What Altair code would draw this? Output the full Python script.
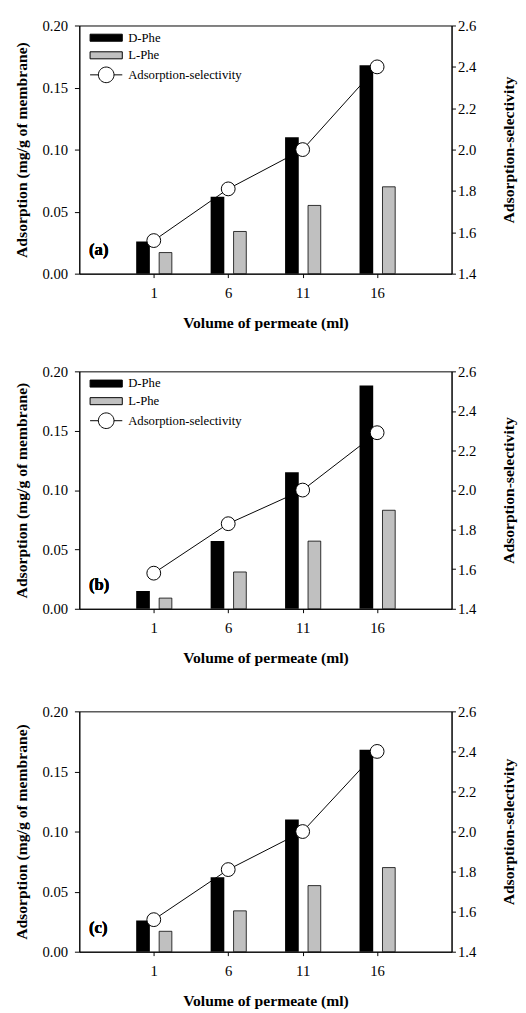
import altair as alt
import pandas as pd

volume = [1, 6, 11, 16]

a_dphe = [0.026, 0.062, 0.110, 0.168]
a_lphe = [0.017, 0.034, 0.055, 0.070]
a_sel = [1.56, 1.81, 2.00, 2.40]

b_dphe = [0.015, 0.057, 0.115, 0.188]
b_lphe = [0.009, 0.031, 0.057, 0.083]
b_sel = [1.58, 1.83, 2.00, 2.29]

c_dphe = [0.026, 0.062, 0.110, 0.168]
c_lphe = [0.017, 0.034, 0.055, 0.070]
c_sel = [1.56, 1.81, 2.00, 2.40]

series_names = ["D-Phe", "L-Phe", "Adsorption-selectivity"]
series_fill = ["#000000", "#c0c0c0", "#ffffff"]
panel_labels = ["(a)", "(b)", "(c)"]
panel_heights = [254, 243, 246]

x_ticks = [1, 6, 11, 16]
left_ticks = [0.0, 0.05, 0.10, 0.15, 0.20]
right_ticks = [1.4, 1.6, 1.8, 2.0, 2.2, 2.4, 2.6]

FONT = "Liberation Serif"
RECT = "M-2.06,-0.45H2.06V0.45H-2.06Z"
LINE_CIRCLE = ("M-2.06,0H-1M1,0H2.06"
               "M-1,0A1,1,0,1,1,1,0A1,1,0,1,1,-1,0Z")

x_scale = alt.Scale(domain=[-4, 21], nice=False, zero=False, padding=0)
x_axis = alt.Axis(values=x_ticks, title="Volume of permeate (ml)", format="d",
                  tickSize=4, labelPadding=8, titlePadding=15)


def panel(dphe, lphe, sel, label, h):
    df = pd.DataFrame({"volume": volume, "dphe": dphe, "lphe": lphe, "sel": sel})
    base = alt.Chart(df)
    left_y = alt.Scale(domain=[0, 0.2], nice=False, zero=True, padding=0)
    bars_d = base.mark_bar(color="#000000", width=14, xOffset=-11).encode(
        x=alt.X("volume:Q", scale=x_scale, axis=x_axis),
        y=alt.Y("dphe:Q", scale=left_y,
                axis=alt.Axis(values=left_ticks, format=".2f",
                              title="Adsorption (mg/g of membrane)",
                              tickSize=5, labelPadding=7, titlePadding=13)),
    )
    bars_l = base.mark_bar(fill="#c0c0c0", stroke="#000000", strokeWidth=0.8,
                           width=13, xOffset=12).encode(
        x=alt.X("volume:Q", scale=x_scale, axis=x_axis),
        y=alt.Y("lphe:Q", scale=left_y),
    )
    tag = base.mark_text(font=FONT, fontSize=17, fontWeight="bold", align="left",
                         baseline="middle", color="#000000").encode(
        x=alt.value(10), y=alt.value(h - 24), text=alt.value(label)
    )
    left = alt.layer(bars_d, bars_l, tag)

    right_y = alt.Scale(domain=[1.4, 2.6], nice=False, zero=False, padding=0)
    right_axis = alt.Axis(values=right_ticks, format=".1f", orient="right",
                          title="Adsorption-selectivity", titleAngle=-90,
                          titleBaseline="top",
                          tickSize=4, labelPadding=2, titlePadding=26)
    line = base.mark_line(color="#000000", strokeWidth=1).encode(
        x=alt.X("volume:Q", scale=x_scale, axis=x_axis),
        y=alt.Y("sel:Q", scale=right_y, axis=right_axis),
    )
    pts = base.mark_point(filled=True, fill="#ffffff", stroke="#000000",
                          strokeWidth=1, size=200, opacity=1).encode(
        x=alt.X("volume:Q", scale=x_scale, axis=x_axis),
        y=alt.Y("sel:Q", scale=right_y),
    )
    leg_df = pd.DataFrame({"series": series_names})
    leg = alt.Chart(leg_df).mark_point(size=256, filled=True, clip=True, opacity=1,
                                       stroke="#000000", strokeWidth=1).encode(
        x=alt.value(-200), y=alt.value(-200),
        fill=alt.Fill("series:N",
                      scale=alt.Scale(domain=series_names, range=series_fill),
                      legend=alt.Legend(title=None, orient="none", legendX=19,
                                        legendY=4,
                                        symbolSize=256, symbolOpacity=1,
                                        symbolStrokeColor="#000000",
                                        symbolStrokeWidth=1,
                                        labelFont=FONT, labelFontSize=13,
                                        labelColor="#000000", labelOffset=14,
                                        rowPadding=2, padding=0)),
        shape=alt.Shape("series:N",
                        scale=alt.Scale(domain=series_names,
                                        range=[RECT, RECT, LINE_CIRCLE]),
                        legend=alt.Legend(title=None, orient="none", legendX=19,
                                          legendY=4)),
    )
    right = alt.layer(line, pts, leg)
    return alt.layer(left, right).resolve_scale(y="independent").properties(
        width=381, height=h)


pa = panel(a_dphe, a_lphe, a_sel, panel_labels[0], panel_heights[0])
pb = panel(b_dphe, b_lphe, b_sel, panel_labels[1], panel_heights[1])
pc = panel(c_dphe, c_lphe, c_sel, panel_labels[2], panel_heights[2])

lower = alt.vconcat(pb, pc, spacing=38)
chart = alt.vconcat(pa, lower, spacing=33).resolve_scale(
    fill="independent", shape="independent"
).resolve_legend(fill="independent", shape="independent").properties(
    padding={"left": 5, "top": -2, "right": 0, "bottom": 0},
    background="#ffffff",
).configure_view(stroke="#000000", strokeWidth=1).configure_axis(
    labelFont=FONT, labelFontSize=15, labelColor="#000000",
    titleFont=FONT, titleFontSize=16, titleFontWeight="bold", titleColor="#000000",
    domainColor="#000000", tickColor="#000000", grid=False, domainWidth=1,
    tickWidth=1,
)

chart.save("out.html", embed_options={"renderer": "svg", "actions": False})
